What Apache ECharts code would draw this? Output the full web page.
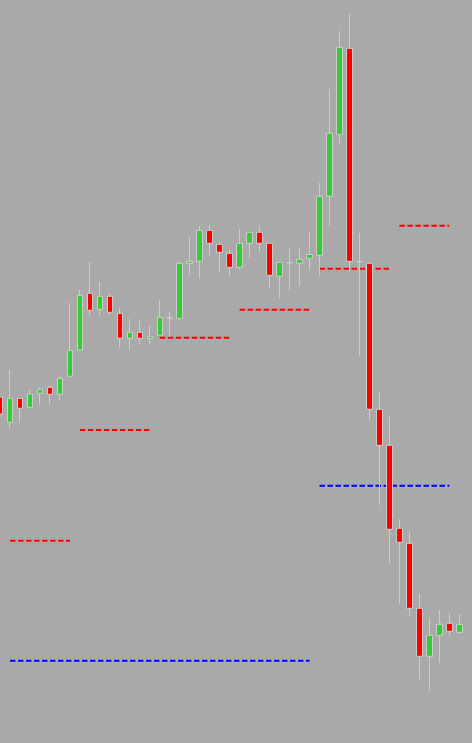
<!DOCTYPE html>
<html>
<head>
<meta charset="utf-8">
<script src="https://cdn.jsdelivr.net/npm/echarts@6/dist/echarts.min.js"></script>
<style>
  html, body { margin: 0; padding: 0; background: #a9a9a9; }
  #chart { width: 472px; height: 743px; }
</style>
</head>
<body>
<div id="chart"></div>
<script>
// candles: [open, close, low, high]
const candles = [
  [346, 329, 326, 347],
  [320.7, 344.7, 314.3, 373],
  [344.7, 334.7, 320.3, 345],
  [335.7, 349, 334.3, 353],
  [349.7, 353.7, 338.3, 355.7],
  [355.7, 348.7, 338.3, 357],
  [348.7, 364.7, 342.3, 367.7],
  [366.7, 392.7, 366.5, 440.3],
  [393, 447.7, 393, 453],
  [449.7, 432.7, 427.3, 481],
  [433.7, 446.7, 427.3, 461],
  [446.7, 430.7, 428.3, 449.7],
  [429.7, 404.7, 394.3, 435],
  [404.7, 410.7, 393.3, 424],
  [410.7, 404.7, 399.3, 422],
  [404.7, 406.7, 399.3, 417],
  [407.7, 425.7, 407.7, 443],
  [425, 425, 406.3, 431],
  [424.7, 479.7, 422.3, 481.3],
  [479.7, 481.7, 468.3, 506],
  [481.7, 512.7, 464.3, 517],
  [512.7, 499.7, 486.3, 518],
  [498.7, 490.7, 470.3, 500.7],
  [489.7, 475.7, 466.3, 492.7],
  [475.7, 499.7, 473.3, 514],
  [499.7, 510.7, 484.3, 511],
  [510.7, 499.7, 490.3, 516],
  [499.7, 467.7, 455.3, 500],
  [466.7, 480.7, 444.3, 481],
  [480.3, 480.3, 452.3, 494.7],
  [479.7, 483.7, 457.3, 495.7],
  [484.7, 488.5, 473.5, 511.8],
  [487.7, 546.7, 466.3, 560],
  [546.7, 609.7, 516.3, 654],
  [608.7, 695.7, 599.3, 712],
  [694.7, 481.7, 470.3, 729],
  [481.3, 481.3, 387, 510],
  [479.7, 333.7, 322.3, 480],
  [333.7, 297.7, 238, 351],
  [297.7, 213.7, 178.7, 326],
  [214.7, 200.7, 138.7, 224],
  [199.7, 134.7, 126.3, 211],
  [134.7, 86.7, 63.3, 149],
  [86.7, 107.7, 52.3, 124.3],
  [107.7, 118.7, 80.3, 133],
  [119.7, 111.7, 107.3, 130],
  [110.7, 118.7, 109.3, 129]
];

const categories = candles.map((c, i) => "B" + i);

// dashed levels: [fromIndex, toIndex, value]
const redLevels = [
  [1, 7, 202.3],
  [8, 15, 313],
  [16, 23, 405.3],
  [24, 31, 433.3],
  [32, 39, 474.3],
  [40, 45, 517.3]
];
const blueLevels = [
  [1, 31, 82.3],
  [32, 45, 257.3]
];

function levelSeries(levels, color) {
  return levels.map(l => {
    const data = categories.map((c, i) => (i >= l[0] && i <= l[1] ? l[2] : null));
    return {
      type: "line",
      data: data,
      symbol: "none",
      silent: true,
      connectNulls: false,
      lineStyle: {
        color: color,
        width: 2,
        type: [5.5, 2.5]
      },
      z: 1
    };
  });
}

const mychart = echarts.init(document.getElementById("chart"));
const option = {
  backgroundColor: "#a9a9a9",
  animation: false,
  grid: {
    left: 0,
    right: 12.7,
    top: 0,
    bottom: 0,
    containLabel: false
  },
  xAxis: {
    type: "category",
    data: categories,
    boundaryGap: false,
    show: false
  },
  yAxis: {
    type: "value",
    min: 0,
    max: 743,
    show: false,
    splitLine: { show: false }
  },
  series: [
    ...levelSeries(redLevels, "#ff0000"),
    ...levelSeries(blueLevels, "#0000ff"),
    {
      type: "candlestick",
      data: candles,
      barWidth: 6,
      clip: false,
      z: 2,
      itemStyle: {
        color: "#32cd32",
        color0: "#ff0000",
        borderColor: "#cccccc",
        borderColor0: "#cccccc",
        borderColorDoji: "#cccccc",
        borderWidth: 1
      }
    }
  ]
};
mychart.setOption(option);
</script>
</body>
</html>
